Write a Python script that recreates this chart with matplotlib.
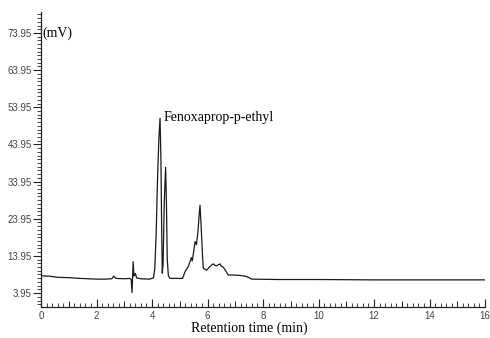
# chromatogram.py
import numpy as np
import matplotlib.pyplot as plt
from matplotlib.ticker import FixedLocator, MultipleLocator, FormatStrFormatter, NullFormatter

# retention time (min) and detector signal (mV)
time_min = [0.00, 0.30, 0.60, 1.00, 1.40, 2.00, 2.30, 2.55, 2.62, 2.70,
            3.00, 3.20, 3.25, 3.28, 3.30, 3.32, 3.35, 3.40, 3.45, 3.60,
            3.90, 4.05, 4.10, 4.15, 4.20, 4.25, 4.29, 4.32, 4.35, 4.37,
            4.40, 4.44, 4.49, 4.52, 4.55, 4.59, 4.65, 5.10, 5.19, 5.30,
            5.37, 5.42, 5.45, 5.50, 5.55, 5.60, 5.65, 5.70, 5.73, 5.77,
            5.82, 5.85, 5.97, 6.05, 6.15, 6.21, 6.27, 6.33, 6.40, 6.45,
            6.50, 6.57, 6.65, 6.75, 6.95, 7.17, 7.35, 7.47, 7.59, 8.50,
            10.00, 12.00, 16.00]
signal_mv = [8.6, 8.5, 8.2, 8.1, 7.9, 7.7, 7.7, 7.8, 8.5, 7.9,
             7.8, 7.9, 7.6, 4.1, 8.0, 12.4, 8.5, 9.2, 8.0, 7.8,
             7.7, 8.0, 10.5, 20.0, 35.0, 46.0, 51.0, 40.0, 20.0, 9.3,
             12.0, 28.0, 37.8, 28.0, 13.0, 8.6, 7.9, 7.9, 9.7, 11.0,
             12.4, 13.5, 12.6, 15.0, 17.8, 17.0, 20.0, 25.0, 27.6, 22.0,
             14.0, 10.6, 10.1, 10.8, 11.5, 11.8, 11.4, 11.3, 11.6, 11.8,
             11.2, 10.9, 10.0, 8.8, 8.8, 8.7, 8.5, 8.2, 7.7, 7.6,
             7.6, 7.5, 7.5]

y_tick_values = [3.95, 13.95, 23.95, 33.95, 43.95, 53.95, 63.95, 73.95]
x_tick_values = [0, 2, 4, 6, 8, 10, 12, 14, 16]
x_mid_ticks = [1, 3, 5, 7, 9, 11, 13, 15]

peak_name = 'Fenoxaprop-p-ethyl'


def main():
    plt.rcParams['font.family'] = ['Liberation Sans', 'DejaVu Sans']

    fig = plt.figure(figsize=(4.9, 3.38), dpi=100)
    ax = fig.add_axes([0.0837, 0.0917, 0.9061, 0.8728])

    ax.plot(time_min, signal_mv, color='#1a1a1a', linewidth=0.9)

    ax.set_xlim(0, 16)
    ax.set_ylim(0.2, 79.6)

    # only left and bottom axis lines, like the instrument printout
    for side in ['top', 'right']:
        ax.spines[side].set_visible(False)
    for side in ['left', 'bottom']:
        ax.spines[side].set_linewidth(0.9)
        ax.spines[side].set_color('#222222')

    ax.yaxis.set_major_locator(FixedLocator(y_tick_values))
    ax.yaxis.set_major_formatter(FormatStrFormatter('%.2f'))
    ax.yaxis.set_minor_locator(FixedLocator(np.arange(0.95, 80, 1.0)))
    ax.xaxis.set_major_locator(FixedLocator(x_tick_values))
    ax.xaxis.set_minor_locator(MultipleLocator(0.2))

    ax.tick_params(axis='y', which='major', direction='out', length=6, width=0.8,
                   pad=0.5, labelsize=7, labelcolor='#444444', color='#222222')
    ax.tick_params(axis='y', which='minor', direction='out', length=3, width=0.6,
                   color='#222222')
    ax.tick_params(axis='x', which='major', direction='in', length=5.5, width=0.8,
                   pad=3, labelsize=7, labelcolor='#444444', color='#222222')
    ax.tick_params(axis='x', which='minor', direction='in', length=3, width=0.6,
                   color='#222222')

    # medium ticks at the odd minutes
    sec = ax.secondary_xaxis('bottom')
    sec.xaxis.set_major_locator(FixedLocator(x_mid_ticks))
    sec.xaxis.set_major_formatter(NullFormatter())
    sec.tick_params(direction='in', length=4.5, width=0.7, color='#222222')
    sec.spines['bottom'].set_visible(False)

    # text labels in serif, as in the original figure
    serif = ['Liberation Serif', 'DejaVu Serif']
    ax.text(0.05, 73.95, '(mV)', family=serif, fontsize=10, va='center', ha='left')
    ax.text(4.4, 49.5, peak_name, family=serif, fontsize=10, va='bottom', ha='left')
    fig.text(249 / 490, 1 - 328 / 338, 'Retention time (min)', family=serif,
             fontsize=10, ha='center', va='center')

    fig.savefig('out.png', dpi=100)
    plt.close(fig)


if __name__ == '__main__':
    main()
